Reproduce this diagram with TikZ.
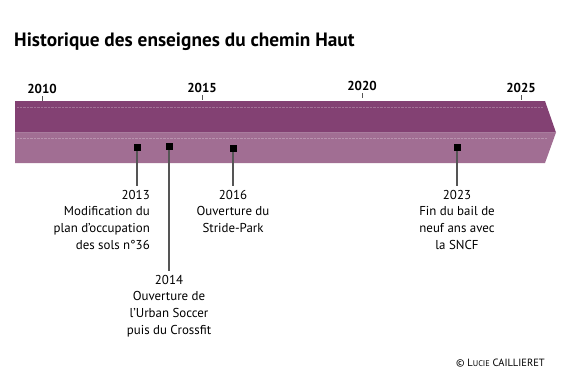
\documentclass[tikz,border=0pt]{standalone}
\usepackage{fontspec}
\setmainfont{PT Sans}
\usepackage{tikz}
\usetikzlibrary{positioning}

\definecolor{bandtop}{RGB}{131,65,115}
\definecolor{bandlow}{RGB}{161,110,147}
\definecolor{stemgray}{RGB}{85,85,85}

\begin{document}
\begin{tikzpicture}[
  x=1pt, y=-1pt,
  yearlab/.style={font=\fontsize{13}{15}\selectfont\bfseries, anchor=base, inner sep=0pt},
  yeartick/.style={draw=stemgray, line width=1pt},
  event/.style={rectangle, fill=black, minimum size=7pt, inner sep=0pt},
  evtext/.style={font=\fontsize{12.9}{16.6}\selectfont, align=center, inner sep=0pt, anchor=north},
  stem/.style={draw=stemgray, line width=1.3pt, shorten >=4pt},
]
\useasboundingbox (0,0) rectangle (587,389);

% Title
\node[font=\fontsize{19.3}{23}\selectfont\bfseries, anchor=base west, inner sep=0pt] (title) at (14,46.7) {Historique des enseignes du chemin Haut};

% Band
\fill[bandtop] (15,101) -- (545,101) -- (556,132.5) -- (15,132.5) -- cycle;
\fill[bandlow] (15,132.5) -- (556,132.5) -- (545,163) -- (15,163) -- cycle;
\draw[white, opacity=0.25, densely dotted] (17,107) -- (543,107);
\draw[white, opacity=0.25, densely dotted] (17,138) -- (547,138);

% Years
\node[yearlab] (y2010) at (42,93) {2010};
\node[yearlab] (y2015) at (202,92) {2015};
\node[yearlab] (y2020) at (362,90) {2020};
\node[yearlab] (y2025) at (521,92) {2025};
\foreach \yr in {2010,2015,2020,2025}
  \draw[yeartick] (y\yr.south) ++(0,3) -- ++(0,5);

% Markers
\node[event] (m13) at (137,147.5) {};
\node[event] (m14) at (169,146.7) {};
\node[event] (m16) at (233,148.3) {};
\node[event] (m23) at (457,147.5) {};

% Texts
\node[evtext, align=right, anchor=north east] (e13) at (150,190) {2013\\Modification du\\plan d'occupation\\des sols n°36};
\node[evtext] (e14) at (169,275) {2014\\Ouverture de\\l'Urban Soccer\\puis du Crossfit};
\node[evtext] (e16) at (233,190) {2016\\Ouverture du\\Stride-Park};
\node[evtext] (e23) at (457,190) {2023\\Fin du bail de\\neuf ans avec\\la SNCF};

% Stems
\draw[stem] (m13) -- (m13 |- e13.north);
\draw[stem] (m14) -- (m14 |- e14.north);
\draw[stem] (m16) -- (m16 |- e16.north);
\draw[stem] (m23) -- (m23 |- e23.north);

% Credit
\node[font=\fontsize{10.5}{12}\selectfont, anchor=base east, inner sep=0pt] (credit) at (545,366.7) {© L{\fontsize{8.3}{10}\selectfont UCIE} CAILLIERET};
\end{tikzpicture}
\end{document}
